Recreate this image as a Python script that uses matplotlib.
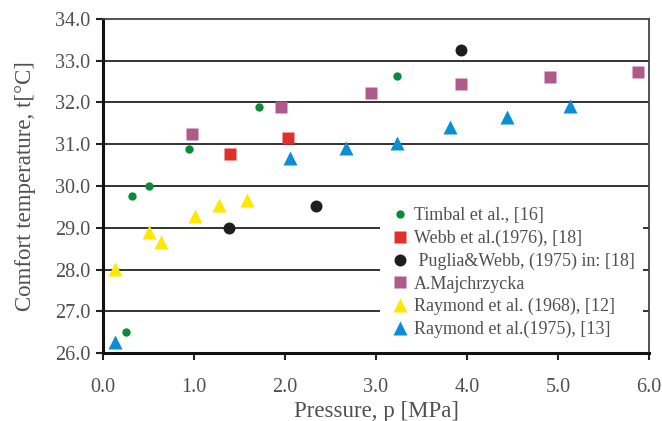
import matplotlib.pyplot as plt
import numpy as np

plt.rcParams["font.family"] = ["Liberation Serif", "DejaVu Serif"]

# Timbal et al., [16]
timbal_p = [0.25, 0.32, 0.51, 0.95, 1.71, 3.23]
timbal_t = [26.5, 29.75, 30.0, 30.89, 31.88, 32.63]

# Webb et al.(1976), [18]
webb_p = [1.40, 2.03]
webb_t = [30.76, 31.14]

# Puglia&Webb, (1975) in: [18]
puglia_p = [1.38, 2.34, 3.93]
puglia_t = [28.99, 29.51, 33.25]

# A.Majchrzycka
majch_p = [0.98, 1.96, 2.95, 3.93, 4.91, 5.88]
majch_t = [31.24, 31.88, 32.22, 32.45, 32.60, 32.73]

# Raymond et al. (1968), [12]
ray68_p = [0.13, 0.51, 0.64, 1.01, 1.27, 1.58]
ray68_t = [28.02, 28.89, 28.65, 29.29, 29.54, 29.66]

# Raymond et al.(1975), [13]
ray75_p = [0.13, 2.05, 2.67, 3.23, 3.81, 4.44, 5.13]
ray75_t = [26.27, 30.66, 30.91, 31.02, 31.42, 31.66, 31.92]

txt = "#505050"

fig = plt.figure(figsize=(6.62, 4.21), dpi=100)
ax = fig.add_axes([0.1556, 0.1608, 0.8248, 0.7948])

for yv in np.arange(27, 34):
    ax.axhline(yv, color="#222222", lw=1.3, zorder=1)

ax.plot(timbal_p, timbal_t, "o", color="#0a8a3a", ms=6, mec="none",
        label="Timbal et al., [16]", zorder=3)
ax.plot(webb_p, webb_t, "s", color="#e0302a", ms=8.5, mec="none",
        label="Webb et al.(1976), [18]", zorder=3)
ax.plot(puglia_p, puglia_t, "o", color="#1e1e1e", ms=8.6, mec="none",
        label=" Puglia&Webb, (1975) in: [18]", zorder=3)
ax.plot(majch_p, majch_t, "s", color="#b05a8c", ms=8.5, mec="none",
        label="A.Majchrzycka", zorder=3)
ax.plot(ray68_p, ray68_t, "^", color="#ffe800", ms=9.5, mec="none",
        label="Raymond et al. (1968), [12]", zorder=3)
ax.plot(ray75_p, ray75_t, "^", color="#0a8fd6", ms=9.5, mec="none",
        label="Raymond et al.(1975), [13]", zorder=3)

ax.set_xlim(0, 6)
ax.set_ylim(26, 34)
ax.set_xticks(np.arange(0, 6.1, 1.0))
ax.set_yticks(np.arange(26, 34.1, 1.0))
ax.xaxis.set_major_formatter(plt.FormatStrFormatter("%.1f"))
ax.yaxis.set_major_formatter(plt.FormatStrFormatter("%.1f"))
ax.tick_params(axis="both", labelsize=14.5, labelcolor=txt, length=5,
               width=1.5, color="#222222")
ax.tick_params(axis="x", pad=13)
ax.tick_params(axis="y", pad=4)

for s in ["left", "bottom"]:
    ax.spines[s].set_linewidth(2.2)
    ax.spines[s].set_color("#111111")
for s in ["top", "right"]:
    ax.spines[s].set_linewidth(1.3)
    ax.spines[s].set_color("#444444")

ax.set_xlabel("Pressure, p [MPa]", fontsize=16.5, color=txt, labelpad=3)
ax.set_ylabel("Comfort temperature, t[°C]", fontsize=16.5, color=txt,
              labelpad=14)

leg = ax.legend(loc="upper left", bbox_to_anchor=(0.507, 0.461),
                fontsize=13, frameon=True, facecolor="white",
                edgecolor="none", framealpha=1, fancybox=False,
                handlelength=1.35, handletextpad=0.1, labelspacing=0.31,
                borderpad=0.45, numpoints=1, borderaxespad=0)
for t in leg.get_texts():
    t.set_color(txt)
leg.set_zorder(2)

fig.savefig("out.png", dpi=100)
